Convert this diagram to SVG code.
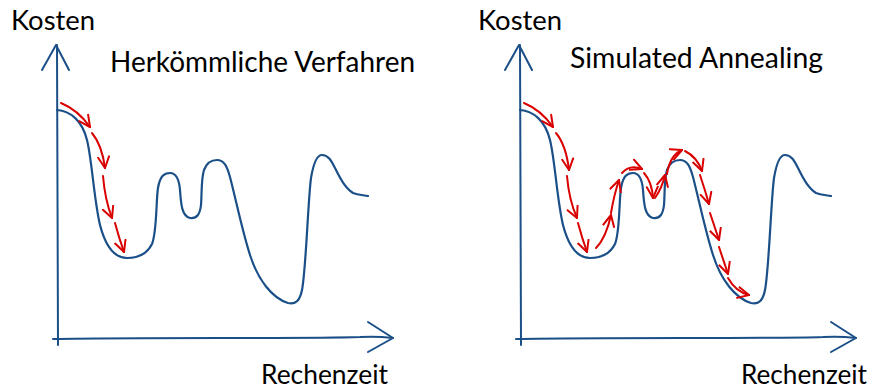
<svg xmlns="http://www.w3.org/2000/svg" width="880" height="392" viewBox="0 0 880 392">
<style>
.t{font-family:Lato,"Liberation Sans",sans-serif;fill:#000}
.k{font-size:26px}
.h{font-size:28px}
.r{font-size:26px}
.ax{fill:none;stroke:#1b4f88;stroke-width:2;stroke-linecap:round;stroke-linejoin:round}
.cv{fill:none;stroke:#1b4f88;stroke-width:2.2;stroke-linecap:round}
.ar{fill:none;stroke:#d90000;stroke-width:2;stroke-linecap:round;marker-end:url(#h)}
</style>
<defs>
<marker id="h" markerUnits="userSpaceOnUse" viewBox="-12 -7 14 14" refX="0" refY="0" markerWidth="14" markerHeight="14" orient="auto">
<path d="M-11,-5.5 L0,0 L-11,5.5" fill="none" stroke="#d90000" stroke-width="2" stroke-linecap="round" stroke-linejoin="round"/>
</marker>
<path id="curve" d="M57,110 C70,111 82,120 87,140 C92,160 94,200 100,225 C106,248 115,258 127,258 C140,258 148,252 152,244 C157,232 156,200 158,188 C160,176 164,173 170,173 C176,173 179,178 180,190 C181,205 182,216 190,218 C197,219 200,214 201,205 C202,192 201,180 204,170 C207,162 212,160 217,160 C224,160 227,166 230,177 C236,200 242,230 250,255 C258,280 272,298 288,303 C296,305 300,300 302,290 C306,270 308,200 311,178 C314,160 318,155 322,155 C328,155 331,160 335,168 C340,178 345,188 353,193 C358,195 363,195 368,196"/>
</defs>
<rect width="880" height="392" fill="#fff"/>

<g id="left-panel">
<g id="left-axes">
<path class="ax" d="M57,45 C57,150 58,250 58,345"/>
<path class="ax" d="M42,70 L56,45 L69,70"/>
<path class="ax" d="M53,339 C150,337 300,339 360,337 C375,336 385,337 393,338"/>
<path class="ax" d="M368,322 L393,338 L368,352"/>
</g>
<g id="left-curve"><use href="#curve" class="cv"/></g>
<text class="t k" x="11" y="30" textLength="84" lengthAdjust="spacingAndGlyphs">Kosten</text>
<text class="t h" x="110" y="72" textLength="305" lengthAdjust="spacingAndGlyphs">Herkömmliche Verfahren</text>
<text class="t r" x="261" y="384" textLength="127" lengthAdjust="spacingAndGlyphs">Rechenzeit</text>
</g>

<g id="left-connectors">
<path class="ar" d="M61,103 Q78,110 90,127"/>
<path class="ar" d="M92,133 Q102,145 105,168"/>
<path class="ar" d="M103,176 Q105,200 112,218"/>
<path class="ar" d="M115,223 Q119,238 124,252"/>
</g>

<g id="right-panel">
<g id="right-axes">
<path class="ax" d="M520,45 C520,150 521,250 521,345"/>
<path class="ax" d="M505,70 L519,45 L532,70"/>
<path class="ax" d="M516,339 C613,337 763,339 823,337 C838,336 848,337 856,338"/>
<path class="ax" d="M831,322 L856,338 L831,352"/>
</g>
<g id="right-curve"><use href="#curve" class="cv" transform="translate(463,0)"/></g>
<text class="t k" x="478" y="30" textLength="84" lengthAdjust="spacingAndGlyphs">Kosten</text>
<text class="t h" x="570" y="68" textLength="253" lengthAdjust="spacingAndGlyphs">Simulated Annealing</text>
<text class="t r" x="741" y="384" textLength="126" lengthAdjust="spacingAndGlyphs">Rechenzeit</text>
</g>

<g id="right-connectors">
<path class="ar" d="M524,103 Q541,110 553,127"/>
<path class="ar" d="M556,133 Q566,145 569,170"/>
<path class="ar" d="M567,176 Q569,200 577,218"/>
<path class="ar" d="M578,223 Q582,238 587,252"/>
<path class="ar" d="M596,248 Q606,238 611,215"/>
<path class="ar" d="M611,213 Q614,195 619,180"/>
<path class="ar" d="M622,173 Q630,164 642,169"/>
<path class="ar" d="M644,173 Q652,182 653,198"/>
<path class="ar" d="M655,198 Q662,188 665,175"/>
<path class="ar" d="M667,174 Q670,155 682,150"/>
<path class="ar" d="M685,151 Q697,157 702,171"/>
<path class="ar" d="M700,175 Q705,190 709,204"/>
<path class="ar" d="M710,213 Q715,228 719,240"/>
<path class="ar" d="M719,247 Q724,262 728,274"/>
<path class="ar" d="M728,278 Q736,292 749,295"/>
</g>
</svg>
